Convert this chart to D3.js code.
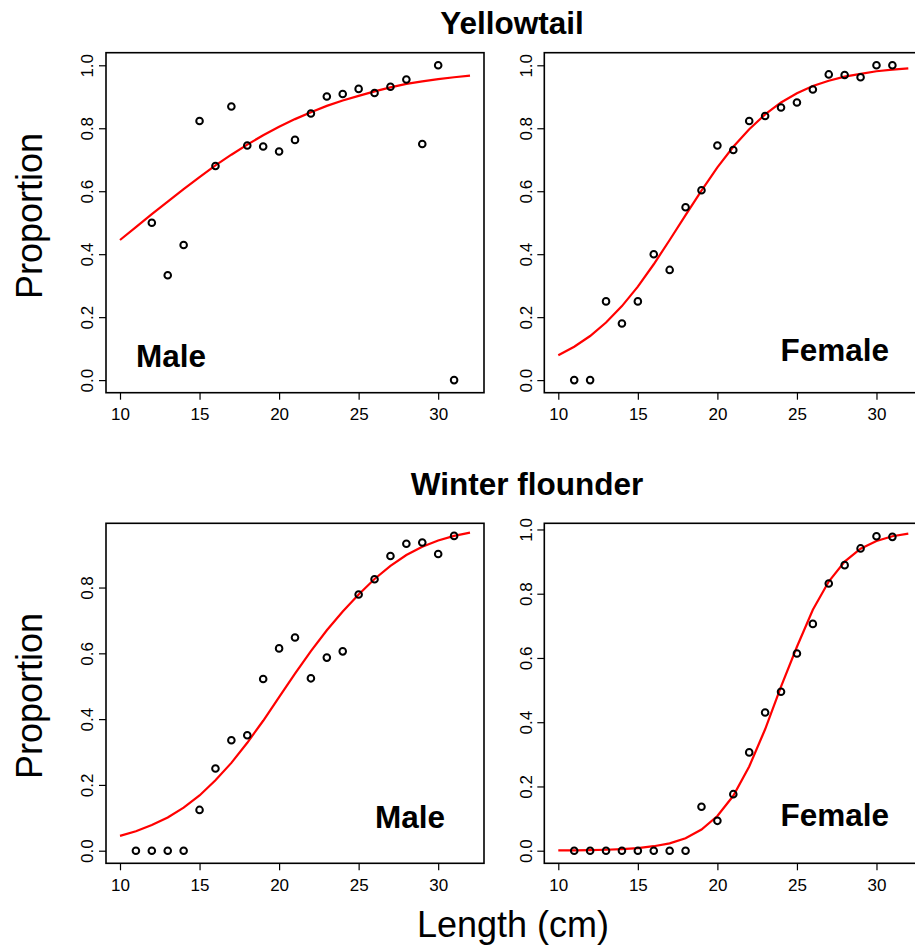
<!DOCTYPE html>
<html>
<head>
<meta charset="utf-8">
<script src="https://cdn.jsdelivr.net/npm/d3@7/dist/d3.min.js"></script>
<style>
  html, body { margin: 0; padding: 0; background: #fff; }
  svg { display: block; }
  text { font-family: "Liberation Sans", Arial, Helvetica, sans-serif; fill: #000; }
</style>
</head>
<body>
<div id="chart"></div>
<script>
// observed proportions by length class (cm)
const lengths = [11, 12, 13, 14, 15, 16, 17, 18, 19, 20, 21, 22, 23, 24, 25, 26, 27, 28, 29, 30, 31];
const ytMale   = [null, 0.50, 0.333, 0.429, 0.823, 0.680, 0.869, 0.745, 0.742, 0.726, 0.763, 0.847, 0.901, 0.909, 0.925, 0.912, 0.932, 0.955, 0.75, 1.0, 0.0];
const ytFemale = [0, 0, 0.25, 0.18, 0.25, 0.40, 0.35, 0.549, 0.603, 0.745, 0.731, 0.823, 0.839, 0.866, 0.882, 0.923, 0.971, 0.969, 0.962, 1.0, 1.0];
const wfMale   = [0, 0, 0, 0, 0.124, 0.250, 0.336, 0.351, 0.522, 0.615, 0.648, 0.524, 0.587, 0.606, 0.779, 0.825, 0.896, 0.933, 0.937, 0.902, 0.957];
const wfFemale = [0, 0, 0, 0, 0, 0, 0, 0, 0.137, 0.093, 0.176, 0.306, 0.430, 0.495, 0.614, 0.706, 0.832, 0.889, 0.941, 0.979, 0.977];

// fitted curves, read at each cm from 10 to 32
const fitLengths = [10, 11, 12, 13, 14, 15, 16, 17, 18, 19, 20, 21, 22, 23, 24, 25, 26, 27, 28, 29, 30, 31, 32];
const ytMaleFit   = [0.445, 0.486, 0.527, 0.567, 0.607, 0.645, 0.682, 0.716, 0.748, 0.778, 0.805, 0.829, 0.851, 0.871, 0.888, 0.903, 0.917, 0.930, 0.941, 0.949, 0.956, 0.962, 0.967];
const ytFemaleFit = [0.079, 0.106, 0.140, 0.183, 0.235, 0.297, 0.368, 0.445, 0.524, 0.602, 0.676, 0.741, 0.797, 0.844, 0.882, 0.911, 0.934, 0.951, 0.964, 0.973, 0.981, 0.986, 0.990];
const wfMaleFit   = [0.045, 0.059, 0.078, 0.101, 0.131, 0.168, 0.214, 0.267, 0.328, 0.395, 0.467, 0.538, 0.607, 0.670, 0.727, 0.779, 0.826, 0.866, 0.899, 0.924, 0.943, 0.957, 0.967];
const wfFemaleFit = [0.001, 0.001, 0.002, 0.003, 0.005, 0.008, 0.014, 0.023, 0.039, 0.066, 0.108, 0.171, 0.262, 0.378, 0.511, 0.635, 0.750, 0.838, 0.900, 0.940, 0.964, 0.979, 0.987];

const xTicks = [10, 15, 20, 25, 30];
const yTicksFull = [0, 0.2, 0.4, 0.6, 0.8, 1.0];
const yTicksShort = [0, 0.2, 0.4, 0.6, 0.8];

const W = 915, H = 949;
const FONT_TICK = 17;

const svg = d3.select("#chart").append("svg")
  .attr("width", W).attr("height", H).attr("viewBox", `0 0 ${W} ${H}`);

// panel boxes in pixels, y range padded 4% like base R
const panels = [
  { obs: ytMale,   fit: ytMaleFit,   label: "Male",   lx: 136, ly: 367, anchor: "start",
    left: 106,   top: 52.7,  ymax: 1.0,   yTicks: yTicksFull },
  { obs: ytFemale, fit: ytFemaleFit, label: "Female", lx: 889, ly: 361, anchor: "end",
    left: 544.3, top: 52.7,  ymax: 1.0,   yTicks: yTicksFull },
  { obs: wfMale,   fit: wfMaleFit,   label: "Male",   lx: 445, ly: 828, anchor: "end",
    left: 106,   top: 523.3, ymax: 0.957, yTicks: yTicksShort },
  { obs: wfFemale, fit: wfFemaleFit, label: "Female", lx: 889, ly: 826, anchor: "end",
    left: 544.3, top: 523.3, ymax: 0.98,  yTicks: yTicksFull }
];
const PW = 378, PH = 340;

panels.forEach(p => {
  const x = d3.scaleLinear().domain([10 - 0.88, 32 + 0.88]).range([p.left, p.left + PW]);
  const pad = p.ymax * 0.04;
  const y = d3.scaleLinear().domain([-pad, p.ymax + pad]).range([p.top + PH, p.top]);
  const g = svg.append("g");

  // x axis
  const xa = g.append("g")
    .attr("transform", `translate(0,${p.top + PH})`)
    .call(d3.axisBottom(x).tickValues(xTicks).tickSize(7).tickPadding(8).tickFormat(d3.format("d")));
  xa.select(".domain").remove();
  xa.selectAll("line").attr("stroke", "#000").attr("stroke-width", 1.2);
  xa.selectAll("text").attr("font-size", FONT_TICK).attr("font-family", null).attr("dy", null)
    .attr("y", 27.3);

  // y axis, labels parallel to axis
  const ya = g.append("g")
    .attr("transform", `translate(${p.left},0)`)
    .call(d3.axisLeft(y).tickValues(p.yTicks).tickSize(7).tickFormat(d3.format(".1f")));
  ya.select(".domain").remove();
  ya.selectAll("line").attr("stroke", "#000").attr("stroke-width", 1.2);
  ya.selectAll("text").attr("font-size", FONT_TICK).attr("font-family", null)
    .attr("x", null).attr("dy", null)
    .attr("text-anchor", "middle")
    .attr("transform", "translate(-12.7,0) rotate(-90)");

  // box
  g.append("rect")
    .attr("x", p.left).attr("y", p.top).attr("width", PW).attr("height", PH)
    .attr("fill", "none").attr("stroke", "#000").attr("stroke-width", 1.6);

  // fitted curve
  const line = d3.line().x((d, i) => x(fitLengths[i])).y(d => y(d));
  g.append("path").datum(p.fit)
    .attr("d", line).attr("fill", "none")
    .attr("stroke", "#ff0000").attr("stroke-width", 2.2);

  // observed points
  g.append("g").selectAll("circle")
    .data(lengths.map((l, i) => ({ l, v: p.obs[i] })).filter(d => d.v !== null))
    .join("circle")
    .attr("cx", d => x(d.l)).attr("cy", d => y(d.v)).attr("r", 3.3)
    .attr("fill", "none").attr("stroke", "#000").attr("stroke-width", 2);

  g.append("text")
    .attr("x", p.lx).attr("y", p.ly).attr("text-anchor", p.anchor)
    .attr("font-size", 31.5).attr("font-weight", "bold")
    .text(p.label);
});

// titles and shared labels
svg.append("text").attr("x", 512).attr("y", 34.3).attr("text-anchor", "middle")
  .attr("font-size", 31.5).attr("font-weight", "bold").text("Yellowtail");
svg.append("text").attr("x", 527).attr("y", 495).attr("text-anchor", "middle")
  .attr("font-size", 31.5).attr("font-weight", "bold").text("Winter flounder");
svg.append("text").attr("x", 513).attr("y", 937).attr("text-anchor", "middle")
  .attr("font-size", 36).text("Length (cm)");
[216, 696].forEach(cy => {
  svg.append("text").attr("text-anchor", "middle")
    .attr("transform", `translate(41.7,${cy}) rotate(-90)`)
    .attr("font-size", 36).text("Proportion");
});
</script>
</body>
</html>
